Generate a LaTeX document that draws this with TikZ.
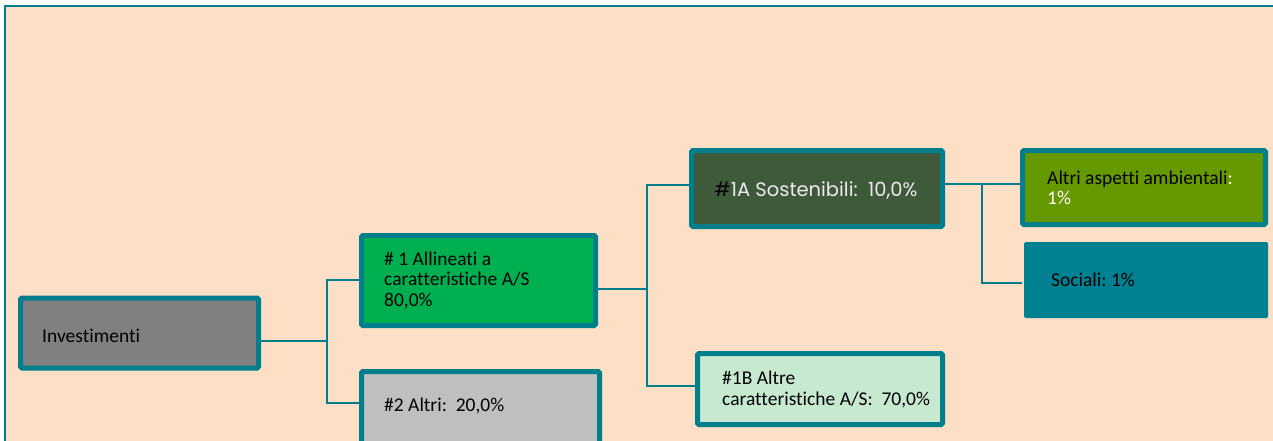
\documentclass[tikz,border=0pt]{standalone}
\usepackage{fontspec}
\setmainfont[Ligatures=NoCommon]{Carlito}
\newfontfamily\geofont{Poppins}
\definecolor{peach}{HTML}{FDDFC6}
\definecolor{tealc}{HTML}{007E8C}
\definecolor{grayc}{HTML}{808080}
\definecolor{greenc}{HTML}{00B050}
\definecolor{lgrayc}{HTML}{BFBFBF}
\definecolor{dgreenc}{HTML}{3E5A3B}
\definecolor{mintc}{HTML}{C6E9D0}
\definecolor{olivec}{HTML}{669900}
\definecolor{socc}{HTML}{008191}
\tikzset{
  box/.style={draw=tealc, line width=5pt, rounded corners=1.5pt, inner sep=0pt},
  lbl/.style={anchor=west, inner sep=0pt, align=left, text=black,
    font=\fontsize{19.5}{20.5}\selectfont\frenchspacing},
  conn/.style={draw=tealc, line width=1.5pt},
}
\begin{document}
\begin{tikzpicture}[x=1pt,y=-1pt]
\useasboundingbox (0,0) rectangle (1273,441);
\fill[white] (0,0) rectangle (1273,441);
\fill[peach] (5,6) rectangle (1273,441);
\draw[tealc, line width=2.5pt] (5,441) -- (5,6) -- (1273,6);
% boxes
\node[box, fill=grayc, minimum width=238pt, minimum height=70pt] (inv) at (139.5,333) {};
\node[box, fill=greenc, minimum width=234pt, minimum height=90pt] (all) at (478.5,280.5) {};
\node[box, fill=lgrayc, minimum width=238pt, minimum height=72pt] (alt) at (480.5,407.5) {};
\node[box, fill=dgreenc, minimum width=251pt, minimum height=76pt] (sos) at (817,188.5) {};
\node[box, fill=mintc, minimum width=245pt, minimum height=71pt] (oth) at (820,389) {};
\node[box, fill=olivec, minimum width=243pt, minimum height=74pt] (amb) at (1144,187.5) {};
\node[box, draw=none, fill=socc, minimum width=244pt, minimum height=76pt] (soc) at (1146,280) {};
% labels
\node[lbl] (inv-t) at (42,336) {Investimenti};
\node[lbl] (all-t) at (384,280) {\# 1 Allineati a\\caratteristiche A/S\\80,0\%};
\node[lbl] (alt-t) at (384,406) {\#2 Altri:\ \ 20,0\%};
\node[inner sep=0pt, text=white!92!black, font=\geofont\fontsize{19.5}{20}\selectfont] (sos-t) at (816,190) {\textcolor{black}{\#}1A Sostenibili:\ \ 10,0\%};
\node[lbl] (oth-t) at (722,389.5) {\#1B Altre\\caratteristiche A/S:\ \ 70,0\%};
\node[lbl] (amb-t) at (1047,188) {Altri aspetti ambientali\textcolor{white}{:}\\\textcolor{white}{1\%}};
\node[lbl] (soc-t) at (1051,280) {Sociali: 1\%};
% junctions
\coordinate (j1) at (327,341);
\coordinate (j2) at (647,289);
\coordinate (j3) at (982,184);
\draw[conn] (inv.east |- j1) -- (j1);
\draw[conn] (all.west |- 0,280) -- (j1 |- 0,280) -- (j1 |- 0,403) -- (alt.west |- 0,403);
\draw[conn] (all.east |- j2) -- (j2);
\draw[conn] (sos.west |- 0,185) -- (j2 |- 0,185) -- (j2 |- 0,386) -- (oth.west |- 0,386);
\draw[conn] (sos.east |- j3) -- (amb.west |- j3);
\draw[conn] (j3) -- (j3 |- 0,283) -- (soc.west |- 0,283);
\end{tikzpicture}
\end{document}
